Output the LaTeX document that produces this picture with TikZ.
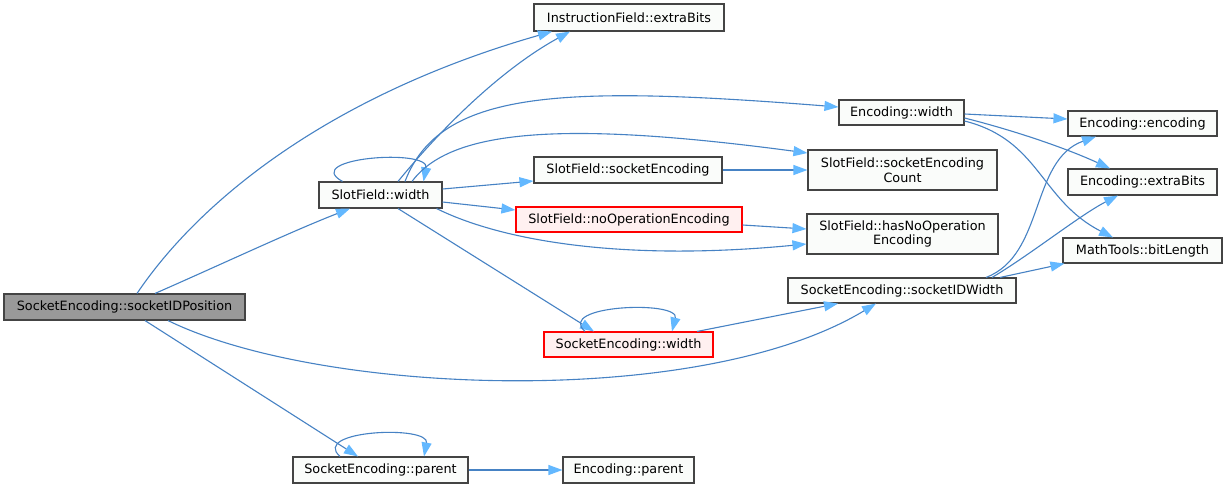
\documentclass[tikz,border=0pt]{standalone}
\usepackage{fontspec}
\setmainfont{DejaVu Sans}
\usetikzlibrary{arrows.meta}
\definecolor{edgeblue}{HTML}{4682C4}
\definecolor{tipblue}{HTML}{63B8FF}
\definecolor{boxfill}{HTML}{FAFCFA}
\definecolor{boxline}{HTML}{444444}
\definecolor{rootfill}{HTML}{999999}
\definecolor{redfill}{HTML}{FFF0F0}
\tikzset{
  fnbox/.style={draw=boxline, fill=boxfill, line width=1.1pt, inner sep=0pt, align=center,
    font=\fontsize{12.8}{14.5}\selectfont},
  rootbox/.style={fnbox, fill=rootfill, draw=boxline},
  redbox/.style={fnbox, draw=red, fill=redfill},
  calledge/.style={draw=edgeblue, line width=1.1pt,
    -{Triangle[length=14pt,width=10pt,color=tipblue]}},
}
\begin{document}
\begin{tikzpicture}[x=1pt,y=-1pt]
\useasboundingbox (0,0) rectangle (1227,488);
\fill[white] (0,0) rectangle (1227,488);

\node[rootbox, minimum width=241, minimum height=26] (sip) at (124.5,307) {SocketEncoding::socketIDPosition};
\node[fnbox, minimum width=190, minimum height=27] (ifx) at (629,17.5) {InstructionField::extraBits};
\node[fnbox, minimum width=123, minimum height=26] (sw) at (380.5,195) {SlotField::width};
\node[fnbox, minimum width=125, minimum height=25] (ew) at (901.5,112.5) {Encoding::width};
\node[fnbox, minimum width=189, minimum height=40] (sec) at (902.5,170) {SlotField::socketEncoding\\Count};
\node[fnbox, minimum width=191, minimum height=40] (hno) at (902.5,234) {SlotField::hasNoOperation\\Encoding};
\node[fnbox, minimum width=149, minimum height=25] (ee) at (1142.5,123.5) {Encoding::encoding};
\node[fnbox, minimum width=149, minimum height=26] (eeb) at (1142.5,182) {Encoding::extraBits};
\node[fnbox, minimum width=159, minimum height=25] (bl) at (1142.5,250.5) {MathTools::bitLength};
\node[fnbox, minimum width=228, minimum height=25] (sid) at (902,290.5) {SocketEncoding::socketIDWidth};
\node[fnbox, minimum width=188, minimum height=26] (se) at (628,170) {SlotField::socketEncoding};
\node[redbox, minimum width=226, minimum height=25] (noe) at (629,219.5) {SlotField::noOperationEncoding};
\node[redbox, minimum width=169, minimum height=25] (sew) at (628.5,344.5) {SocketEncoding::width};
\node[fnbox, minimum width=175, minimum height=26] (sep) at (380.5,470) {SocketEncoding::parent};
\node[fnbox, minimum width=131, minimum height=26] (ep) at (628.5,470) {Encoding::parent};

% edges from socketIDPosition
\draw[calledge] ([xshift=12.5]sip.north) .. controls (200,200) and (330,95) .. ([xshift=-77]ifx.south);
\draw[calledge] ([xshift=30.5]sip.north) .. controls (220,265) and (290,232) .. ([xshift=-30.5]sw.south);
\draw[calledge] ([xshift=43.5]sip.south) .. controls (320,395) and (700,410) .. ([xshift=-26]sid.south);
\draw[calledge] ([xshift=20.5]sip.south) -- ([xshift=-22.5]sep.north);

% edges from SlotField::width
\draw[calledge] ([xshift=17.5]sw.north) .. controls (440,130) and (500,70) .. ([xshift=-59]ifx.south);
\draw[calledge] ([xshift=-38]sw.north) .. controls (300,158) and (430,148) .. ([xshift=43]sw.north);
\draw[calledge] ([xshift=24.5]sw.north) .. controls (440,90) and (560,85) .. ([yshift=5.5]ew.west);
\draw[calledge] ([xshift=31.5]sw.north) .. controls (450,130) and (560,120) .. ([yshift=17]sec.west);
\draw[calledge] ([yshift=6]sw.east) -- ([yshift=-11]se.west);
\draw[calledge] ([yshift=-7]sw.east) -- ([yshift=9.5]noe.west);
\draw[calledge] ([xshift=-6]sw.south east) .. controls (500,240) and (620,262) .. ([yshift=-10]hno.west);
\draw[calledge] ([xshift=17.5]sw.south) -- ([xshift=-34.5]sew.north);

\draw[calledge] (se.east) -- (sec.west);
\draw[calledge] ([yshift=-5.5]noe.east) -- ([yshift=5]hno.west);

% Encoding::width
\draw[calledge] ([yshift=-1.5]ew.east) -- ([yshift=4.5]ee.west);
\draw[calledge] ([yshift=-5.5]ew.east) .. controls (1020,132) and (1070,150) .. ([xshift=-32.5]eeb.north);
\draw[calledge] ([yshift=-8.5]ew.east) .. controls (1040,140) and (1040,200) .. ([xshift=-29.5]bl.north);

% SocketEncoding::width
\draw[calledge] ([xshift=-43.5]sew.north) .. controls (555,305) and (680,300) .. ([xshift=43.5]sew.north);
\draw[calledge] ([xshift=68.5]sew.north) -- ([xshift=-64]sid.south);

% socketIDWidth
\draw[calledge] ([xshift=84]sid.north) .. controls (1045,255) and (1030,160) .. ([xshift=-46.5]ee.south);
\draw[calledge] ([xshift=90]sid.north) .. controls (1030,255) and (1080,215) .. ([xshift=-24.5]eeb.south);
\draw[calledge] ([xshift=98]sid.north) -- ([xshift=2]bl.south west);

% SocketEncoding::parent
\draw[calledge] ([xshift=-40.5]sep.north) .. controls (310,430) and (430,425) .. ([xshift=43.5]sep.north);
\draw[calledge] (sep.east) -- (ep.west);
\end{tikzpicture}
\end{document}
